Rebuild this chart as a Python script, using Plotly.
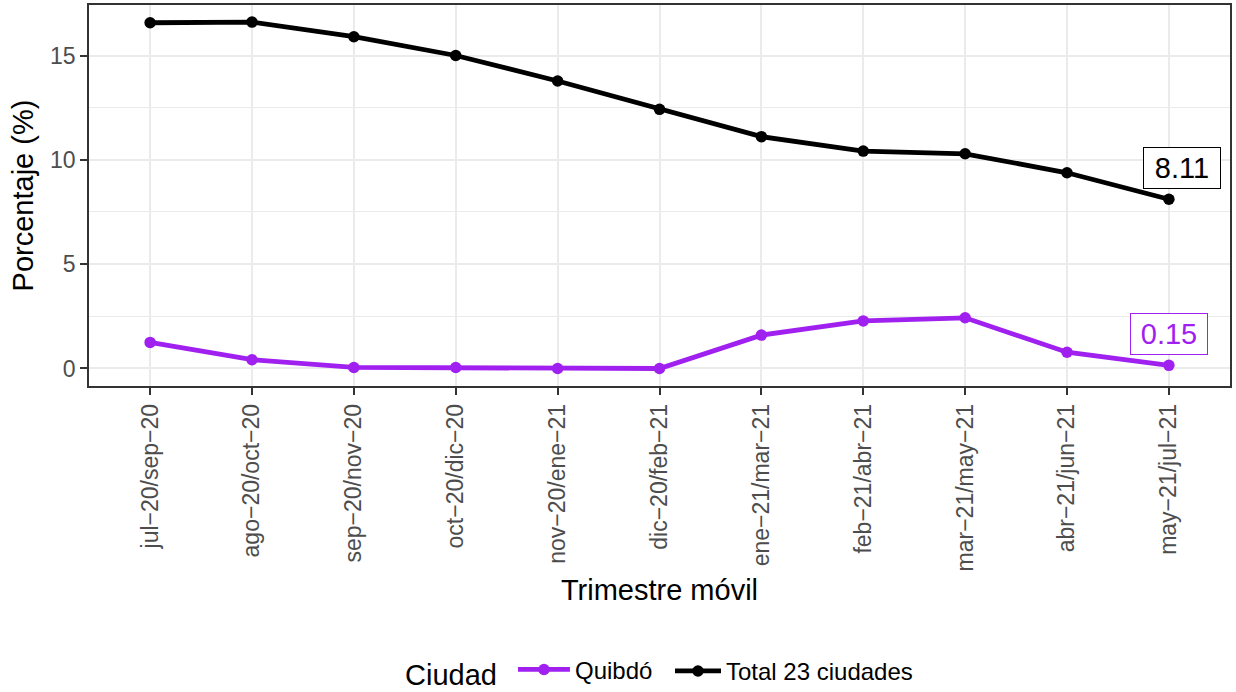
import plotly.graph_objects as go

categories = ["jul−20/sep−20", "ago−20/oct−20", "sep−20/nov−20", "oct−20/dic−20",
              "nov−20/ene−21", "dic−20/feb−21", "ene−21/mar−21", "feb−21/abr−21",
              "mar−21/may−21", "abr−21/jun−21", "may−21/jul−21"]
quibdo = [1.25, 0.42, 0.05, 0.05, 0.0, 0.0, 1.60, 2.28, 2.43, 0.78, 0.15]
total23 = [16.57, 16.60, 15.90, 15.0, 13.78, 12.42, 11.11, 10.42, 10.29, 9.38, 8.11]
series_names = ["Quibdó", "Total 23 ciudades"]
series_colors = ["#A020F0", "#000000"]
series_legends = ["legend", "legend2"]
label_xshift = [0, 13]
y_ticks = [0, 5, 10, 15]

FONT = "Liberation Sans, Arial, sans-serif"
xs = list(range(len(categories)))

fig = go.Figure()
for name, vals, col, xsh, lg in zip(series_names, [quibdo, total23], series_colors,
                                     label_xshift, series_legends):
    fig.add_trace(go.Scatter(
        x=xs, y=vals, name=name, mode="lines+markers", legend=lg,
        line=dict(color=col, width=4.8),
        marker=dict(color=col, size=11.5),
    ))
    fig.add_annotation(
        x=xs[-1], y=vals[-1], xref="x", yref="y",
        text=f"{vals[-1]:.2f}", showarrow=False,
        yshift=31.5, xshift=xsh, yanchor="middle", xanchor="center",
        font=dict(family=FONT, size=29, color=col),
        bgcolor="white", bordercolor=col, borderwidth=1, borderpad=2.5,
        width=71, height=35,
    )

LEG_Y = -0.749
fig.update_layout(
    width=1236, height=692,
    margin=dict(l=89, r=6, t=5, b=306, autoexpand=False),
    paper_bgcolor="white", plot_bgcolor="white",
    font=dict(family=FONT, color="black"),
    showlegend=True,
    legend=dict(
        orientation="h", x=0.2752, xanchor="left", y=LEG_Y, yanchor="middle",
        title=dict(text="Ciudad ", side="left", font=dict(size=29, color="black")),
        font=dict(size=24, color="black"),
        itemwidth=52, tracegroupgap=0,
    ),
    legend2=dict(
        orientation="h", x=0.5092, xanchor="left", y=LEG_Y, yanchor="middle",
        font=dict(size=24, color="black"),
        itemwidth=46, tracegroupgap=0,
    ),
)

fig.update_xaxes(
    automargin=False,
    tickmode="array", tickvals=xs, ticktext=categories,
    range=[-0.6, len(categories) - 1 + 0.6],
    tickangle=-90,
    tickfont=dict(family=FONT, size=23, color="#4D4D4D"),
    ticks="outside", ticklen=7, tickwidth=1.5, tickcolor="#333333",
    showgrid=True, gridcolor="#EBEBEB", gridwidth=2,
    showline=True, mirror=True, linecolor="#333333", linewidth=1.5,
    zeroline=False,
    title=dict(text="Trimestre móvil", font=dict(family=FONT, size=29, color="black"), standoff=9),
)
fig.update_yaxes(
    automargin=False,
    range=[-0.839, 17.42],
    tickmode="array", tickvals=y_ticks, ticktext=[str(t) for t in y_ticks],
    tickfont=dict(family=FONT, size=23, color="#4D4D4D"),
    ticks="outside", ticklen=7, tickwidth=1.5, tickcolor="#333333",
    showgrid=True, gridcolor="#EBEBEB", gridwidth=2,
    minor=dict(tickmode="array", tickvals=[2.5, 7.5, 12.5], showgrid=True,
               gridcolor="#EBEBEB", gridwidth=1, ticks=""),
    showline=True, mirror=True, linecolor="#333333", linewidth=1.5,
    zeroline=False,
    title=dict(text="Porcentaje (%)", font=dict(family=FONT, size=29, color="black"), standoff=8),
)

fig.write_html("out.html", config={"displayModeBar": False},
               post_script="document.body.style.margin='0';")
